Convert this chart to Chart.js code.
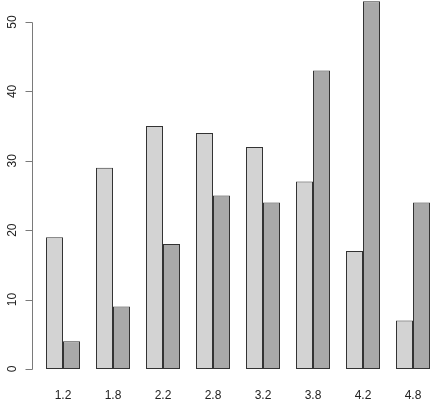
<!DOCTYPE html>
<html>
<head>
<meta charset="utf-8">
<script src="https://cdn.jsdelivr.net/npm/chart.js@4/dist/chart.umd.min.js"></script>
<style>
  html, body { margin: 0; padding: 0; background: #fff; }
  #wrap { width: 438px; height: 404px; }
</style>
</head>
<body>
<div id="wrap"><canvas id="chart" width="438" height="404"></canvas></div>
<script>
const categories = ["1.2", "1.8", "2.2", "2.8", "3.2", "3.8", "4.2", "4.8"];
const seriesA = [19, 29, 35, 34, 32, 27, 17, 7];
const seriesB = [4, 9, 18, 25, 24, 43, 53, 24];
const yTicks = [0, 10, 20, 30, 40, 50];

// y axis drawn R-style, away from the bars, with rotated labels
const rAxis = {
  id: "rAxis",
  afterDraw(chart) {
    const ctx = chart.ctx;
    const y = chart.scales.y;
    const x0 = 32.5;
    ctx.save();
    ctx.strokeStyle = "#7a7a7a";
    ctx.lineWidth = 1;
    ctx.beginPath();
    ctx.moveTo(x0, Math.round(y.getPixelForValue(yTicks[0])) + 0.5);
    ctx.lineTo(x0, Math.round(y.getPixelForValue(yTicks[yTicks.length - 1])) + 0.5);
    yTicks.forEach(v => {
      const py = Math.round(y.getPixelForValue(v)) + 0.5;
      ctx.moveTo(x0, py);
      ctx.lineTo(x0 - 7, py);
    });
    ctx.stroke();
    ctx.fillStyle = "#222";
    ctx.font = "12px 'Liberation Sans', Arial, sans-serif";
    ctx.textAlign = "center";
    ctx.textBaseline = "middle";
    yTicks.forEach(v => {
      const py = y.getPixelForValue(v);
      ctx.save();
      ctx.translate(13, py);
      ctx.rotate(-Math.PI / 2);
      ctx.fillText(String(v), 0, 0);
      ctx.restore();
    });
    ctx.restore();
  }
};

new Chart(document.getElementById("chart"), {
  type: "bar",
  data: {
    labels: categories,
    datasets: [
      { data: seriesA, backgroundColor: "#d3d3d3", borderColor: "#333", borderWidth: 1,
        borderSkipped: false, categoryPercentage: 0.68, barPercentage: 1 },
      { data: seriesB, backgroundColor: "#a9a9a9", borderColor: "#333", borderWidth: 1,
        borderSkipped: false, categoryPercentage: 0.68, barPercentage: 1 }
    ]
  },
  options: {
    responsive: false,
    animation: false,
    layout: { padding: { left: 38, right: 0, top: 0, bottom: 0 } },
    plugins: { legend: { display: false }, tooltip: { enabled: false } },
    scales: {
      x: {
        grid: { display: false },
        border: { display: false },
        ticks: {
          color: "#222",
          padding: 11,
          font: { family: "'Liberation Sans', Arial, sans-serif", size: 12 }
        },
        afterFit(s) { s.height = 35; }
      },
      y: {
        display: false,
        min: 0,
        max: 53.17
      }
    }
  },
  plugins: [rAxis]
});
</script>
</body>
</html>
